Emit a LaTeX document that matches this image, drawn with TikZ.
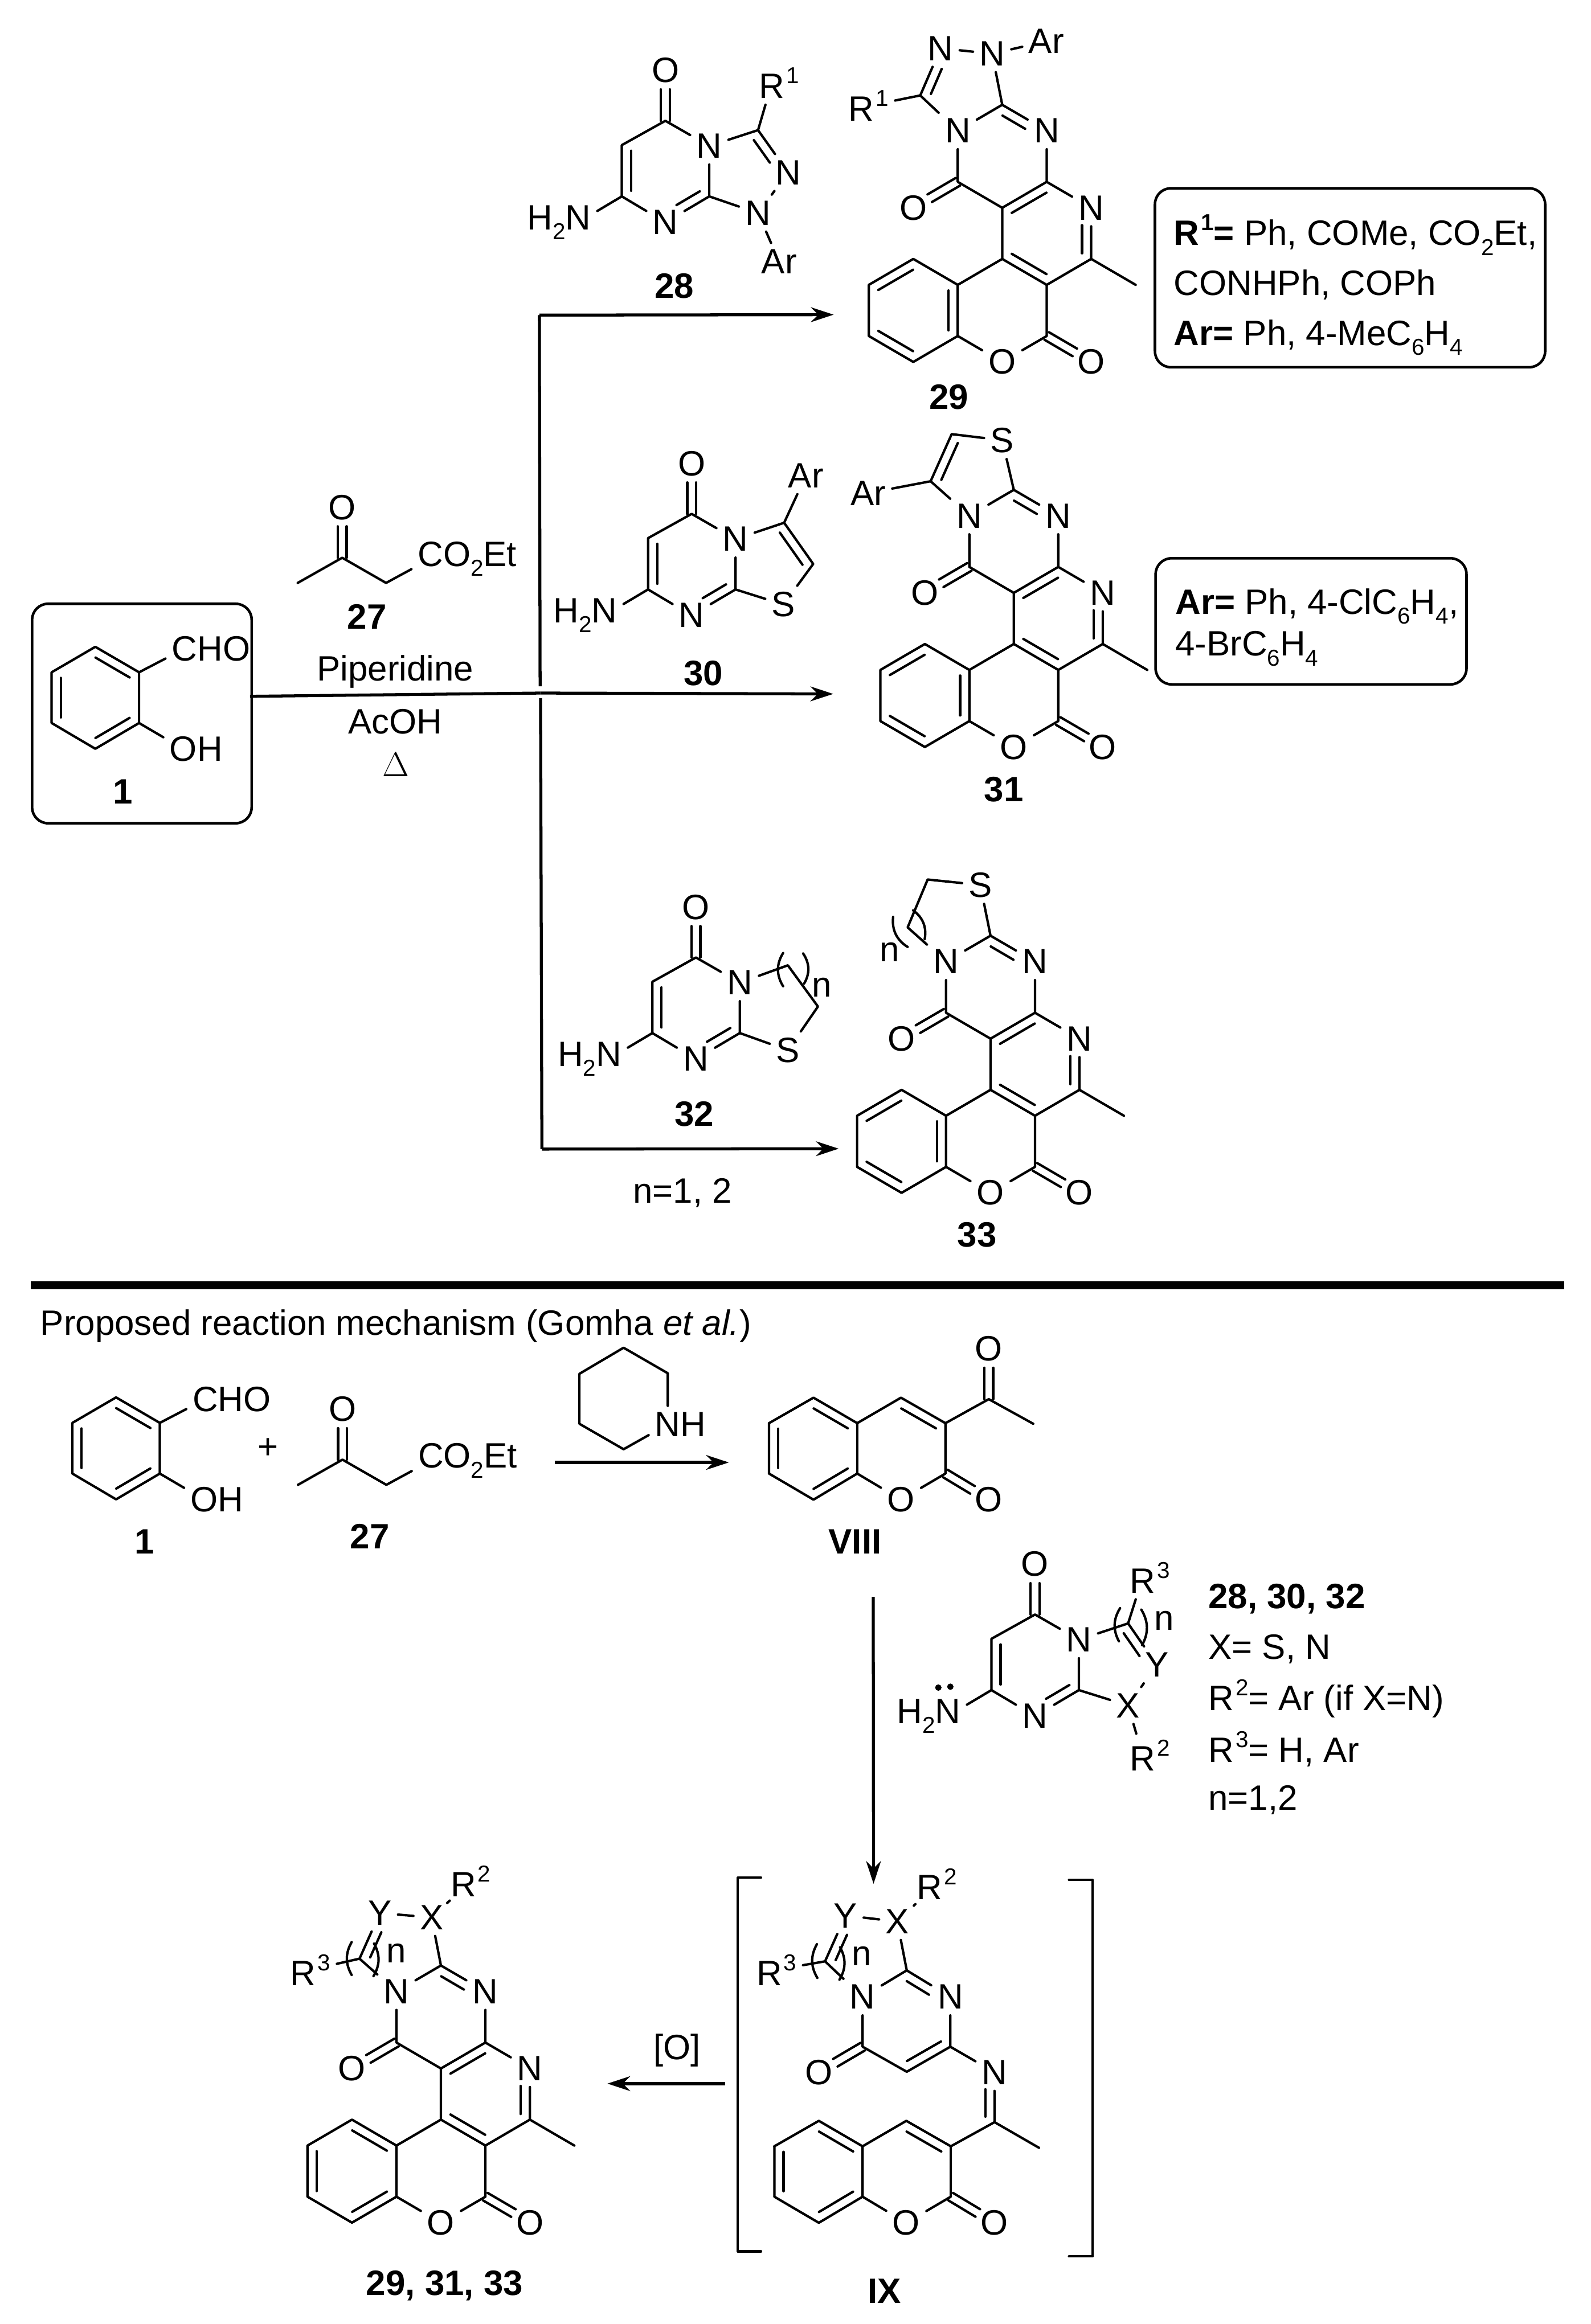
\documentclass[tikz,border=0pt]{standalone}
\usepackage{fontspec}
\setmainfont{Liberation Sans}
\usetikzlibrary{arrows.meta,calc}

\newcommand{\atomfont}{\fontsize{17.6}{21}\selectfont}
\newcommand{\supnum}[1]{\kern.05em\raisebox{.42em}{\fontsize{11.5}{12}\selectfont #1}}
\newcommand{\subnum}[1]{\raisebox{-.28em}{\fontsize{11.5}{12}\selectfont #1}}
\newcommand{\bondgap}{4.6pt}

\tikzset{
    bond/.style={line width=1.2pt, line cap=round, line join=round},
    atom/.style={font=\atomfont, inner sep=3pt},
    caption/.style={font=\atomfont, inner sep=0pt},
    numlabel/.style={font=\atomfont\bfseries, inner sep=0pt},
    rxnline/.style={line width=1.5pt},
    rxnarrow/.style={line width=1.5pt, -{Stealth[length=4mm,width=2.6mm]}},
    molbox/.style={draw, line width=1.3pt, rounded corners=8pt, inner sep=0pt},
    lonedot/.style={circle, fill, inner sep=0pt, minimum size=3.2pt},
}

\newcommand{\inbond}[4][.11]{\draw[bond] ($(#2)!.11!(#3)!#4\bondgap!90:(#3)$) -- ($(#3)!#1!(#2)!#4\bondgap!-90:(#2)$);}
\newcommand{\cdbl}[2]{
    \draw[bond,shorten >=9.5pt] ($(#1)!2.2pt!90:(#2)$) -- ($(#2)!2.2pt!-90:(#1)$);
    \draw[bond,shorten >=9.5pt] ($(#1)!2.2pt!-90:(#2)$) -- ($(#2)!2.2pt!90:(#1)$);
}

\newcommand{\fusedcore}[2]{
    \begin{scope}[shift={(#2)},name prefix=#1-]
        \coordinate (ca) at (0,-69.5);
        \node[atom] (Na) at (-30,-52) {N};
        \node[atom] (Nb) at (30,-52) {N};
        \coordinate (cb) at (-30,-17.5);
        \node[atom] (Oa) at (-60,0) {O};
        \coordinate (cc) at (0,0);
        \coordinate (cd) at (30,-17.5);
        \node[atom] (Nc) at (60,0) {N};
        \coordinate (ce) at (60,34.5);
        \coordinate (cf) at (90,52);
        \coordinate (cg) at (0,34.5);
        \coordinate (ch) at (30,52);
        \coordinate (ci) at (-30,52);
        \coordinate (cj) at (-60,34.5);
        \coordinate (ck) at (-90,52);
        \coordinate (cl) at (-90,86.5);
        \coordinate (cm) at (-60,104);
        \coordinate (cn) at (-30,86.5);
        \node[atom] (Ob) at (0,104) {O};
        \coordinate (co) at (30,86.5);
        \node[atom] (Oc) at (60,104) {O};
        \draw[bond] (Na) -- (ca) -- (Nb) -- (cd) -- (cc) -- (cb) -- (Na);
        \draw[bond] (cd) -- (Nc) -- (ce) -- (ch) -- (cg) -- (cc);
        \draw[bond] (ce) -- (cf);
        \draw[bond] (cg) -- (ci) -- (cj) -- (ck) -- (cl) -- (cm) -- (cn) -- (ci);
        \draw[bond] (cn) -- (Ob) -- (co) -- (ch);
        \inbond[.38]{ca}{Nb}{-}
        \inbond{cc}{cd}{-}
        \inbond[.34]{ce}{Nc}{}
        \inbond{cg}{ch}{}
        \cdbl{cb}{Oa}
        \cdbl{co}{Oc}
    \end{scope}
}
\newcommand{\aminocore}[2]{
    \begin{scope}[shift={(#2)},name prefix=#1-]
        \node[atom] (Oa) at (0,-34) {O};
        \coordinate (co) at (0,0);
        \coordinate (ch) at (-29.4,16.4);
        \coordinate (cn) at (-29.4,51);
        \node[atom] (Nb) at (0,68.5) {N};
        \coordinate (cj) at (29.6,51);
        \node[atom] (Na) at (29.6,17) {N};
        \node[atom] (Nm) at (-58.8,68.5) {\llap{H\subnum{2}}N};
        \draw[bond] (Na) -- (co) -- (ch) -- (cn) -- (Nb) -- (cj) -- (Na);
        \draw[bond] (cn) -- (Nm);
        \inbond{ch}{cn}{}
        \inbond[.36]{cj}{Nb}{-}
        \cdbl{co}{Oa}
    \end{scope}
}
\newcommand{\coumarincore}[2]{
    \begin{scope}[shift={(#2)},name prefix=#1-]
        \coordinate (cc) at (0,0);
        \coordinate (ck) at (-59.5,0);
        \coordinate (cj) at (-29.5,-17.2);
        \coordinate (ct) at (29.5,-17.2);
        \coordinate (cu) at (59.5,0);
        \coordinate (cv) at (59.5,34);
        \node[atom] (Ob) at (29.5,51.6) {O};
        \coordinate (cn) at (0,34);
        \coordinate (cm) at (-29.5,51.6);
        \coordinate (cl) at (-59.5,34);
        \node[atom] (Oc) at (88.7,51.6) {O};
        \draw[bond] (ck) -- (cj) -- (cc) -- (ct) -- (cu) -- (cv) -- (Ob) -- (cn) -- (cc);
        \draw[bond] (cn) -- (cm) -- (cl) -- (ck);
        \inbond{cj}{cc}{-}
        \inbond{ct}{cu}{-}
        \inbond{ck}{cl}{}
        \inbond{cn}{cm}{-}
        \cdbl{cv}{Oc}
    \end{scope}
}
\newcommand{\salicylcore}[2]{
    \begin{scope}[shift={(#2)},name prefix=#1-]
        \coordinate (ra) at (0,0);
        \coordinate (rb) at (0,34.2);
        \coordinate (rc) at (-29.5,51.6);
        \coordinate (rd) at (-59,34.2);
        \coordinate (re) at (-59,0);
        \coordinate (rf) at (-29.5,-17.2);
        \node[atom] (Cho) at (30.7,-16) {C\rlap{HO}};
        \node[atom] (Oh) at (29.9,51.8) {O\rlap{H}};
        \draw[bond] (ra) -- (rb) -- (rc) -- (rd) -- (re) -- (rf) -- (ra) -- (Cho);
        \draw[bond] (rb) -- (Oh);
        \inbond{rf}{ra}{-}
        \inbond{re}{rd}{}
        \inbond{rb}{rc}{-}
    \end{scope}
}
\newcommand{\ketoester}[2]{
    \begin{scope}[shift={(#2)},name prefix=#1-]
        \coordinate (kc) at (0,0);
        \node[atom] (Ok) at (0,-34) {O};
        \coordinate (kme) at (-30,17);
        \coordinate (kch) at (29.6,17);
        \node[atom] (Est) at (59.6,.7) {C\rlap{O\subnum{2}Et}};
        \draw[bond] (kme) -- (kc) -- (kch) -- (Est);
        \cdbl{kc}{Ok}
    \end{scope}
}
\newcommand{\kekuleA}[1]{
    \inbond{#1-cj}{#1-ci}{-}
    \inbond{#1-ck}{#1-cl}{}
    \inbond{#1-cn}{#1-cm}{-}
}
\newcommand{\kekuleB}[1]{
    \inbond{#1-ck}{#1-cj}{-}
    \inbond{#1-cl}{#1-cm}{}
    \inbond{#1-ci}{#1-cn}{-}
}

\begin{document}
\begin{tikzpicture}[x=0.02603cm,y=-0.02603cm]
    \useasboundingbox (0,0) rectangle (1073,1568);

    \node[molbox, minimum width=3.855cm, minimum height=3.855cm] (boxone) at (95.7,481.4) {};
    \salicylcore{sala}{93.8,453.6}
    \node[numlabel] (labone) at (82.8,534) {1};
    \ketoester{keta}{230.8,376.3}
    \node[numlabel] (labketa) at (247.5,416.2) {27};
    \node[caption] (pip) at (266.6,453) {Piperidine};
    \node[caption] (acoh) at (266.6,487) {AcOH};
    \node[caption] (heat) at (267,516) {$\Delta$};

    \coordinate (lineS) at (168.6,469.8);
    \coordinate (jA) at (363.8,212.6);
    \coordinate (jB) at (364.5,467.6);
    \coordinate (jBa) at (364.3,463);
    \coordinate (jBb) at (364.6,471);
    \coordinate (jC) at (365.5,775.3);
    \coordinate (tipA) at (562.3,212.3);
    \coordinate (tipB) at (562,468.2);
    \coordinate (tipC) at (565.7,775);
    \draw[rxnline] (lineS) -- (jB);
    \draw[rxnline] (jBa) -- (jA);
    \draw[rxnline] (jBb) -- (jC);
    \draw[rxnarrow] (jA) -- (tipA);
    \draw[rxnarrow] (jB) -- (tipB);
    \draw[rxnarrow] (jC) -- (tipC);

    \aminocore{mola}{448.8,81.5}
    \coordinate (mola-cr) at (511.3,87.8);
    \node[atom] (mola-R) at (520.6,56) {R\rlap{\supnum{1}}};
    \node[atom] (mola-Nd) at (531.6,116.4) {N};
    \node[atom] (mola-Ne) at (511.3,143.8) {N};
    \node[atom] (mola-Ar) at (525.5,176.4) {Ar};
    \draw[bond] (mola-Na) -- (mola-cr) -- (mola-Nd) -- (mola-Ne) -- (mola-cj);
    \draw[bond] (mola-cr) -- (mola-R);
    \draw[bond] (mola-Ne) -- (mola-Ar);
    \inbond[.36]{mola-cr}{mola-Nd}{-}
    \node[numlabel] (labmola) at (454.7,193) {28};

    \fusedcore{prda}{676,140.2}
    \kekuleB{prda}
    \node[atom] (prda-Nf) at (634.4,32.6) {N};
    \node[atom] (prda-Ng) at (669.2,36.2) {N};
    \node[atom] (prda-Ar) at (705.7,27.9) {Ar};
    \coordinate (prda-cr) at (620.7,64.4);
    \node[atom] (prda-R) at (585.9,71.4) {R\supnum{1}};
    \draw[bond] (prda-Na) -- (prda-cr) -- (prda-Nf) -- (prda-Ng) -- (prda-ca);
    \draw[bond] (prda-Ng) -- (prda-Ar);
    \draw[bond] (prda-cr) -- (prda-R);
    \inbond[.36]{prda-cr}{prda-Nf}{-}
    \node[numlabel] (labprda) at (640,268) {29};
    \node[molbox, minimum width=6.851cm, minimum height=3.144cm] (boxa) at (910.6,187.4) {};
    \node[caption, anchor=west, align=left] (boxatext) at (791.5,192.4)
        {\textbf{R\supnum{1}=} Ph, COMe, CO\subnum{2}Et,\\[4pt] CONHPh, COPh\\[4pt] \textbf{Ar=} Ph, 4-MeC\subnum{6}H\subnum{4}};

    \aminocore{molb}{466.5,346.7}
    \coordinate (molb-cr) at (528.9,352.7);
    \coordinate (molb-cs) at (548.5,380.5);
    \node[atom] (molb-S) at (528.4,407.9) {S};
    \node[atom] (molb-Ar) at (543.6,320.9) {Ar};
    \draw[bond] (molb-Na) -- (molb-cr) -- (molb-cs) -- (molb-S) -- (molb-cj);
    \draw[bond] (molb-cr) -- (molb-Ar);
    \inbond{molb-cr}{molb-cs}{-}
    \node[numlabel] (labmolb) at (474.3,454.1) {30};

    \fusedcore{prdb}{683.8,400}
    \kekuleB{prdb}
    \coordinate (prdb-cr) at (627.7,324.7);
    \coordinate (prdb-cs) at (641.9,292.9);
    \node[atom] (prdb-S) at (676,297) {S};
    \node[atom] (prdb-Ar) at (585.6,332.7) {Ar};
    \draw[bond] (prdb-Na) -- (prdb-cr) -- (prdb-cs) -- (prdb-S) -- (prdb-ca);
    \draw[bond] (prdb-cr) -- (prdb-Ar);
    \inbond{prdb-cr}{prdb-cs}{-}
    \node[numlabel] (labprdb) at (677,532.6) {31};
    \node[molbox, minimum width=5.459cm, minimum height=2.215cm] (boxb) at (884.3,419.2) {};
    \node[caption, anchor=west, align=left] (boxbtext) at (792.5,423.2)
        {\textbf{Ar=} Ph, 4-ClC\subnum{6}H\subnum{4},\\ 4-BrC\subnum{6}H\subnum{4}};

    \aminocore{molc}{469.4,646}
    \coordinate (molc-cr) at (531.4,651.3);
    \coordinate (molc-cs) at (551.7,679.1);
    \node[atom] (molc-S) at (531.4,708.6) {S};
    \node[atom] (molc-n) at (554.2,666.3) {n};
    \draw[bond] (molc-Na) -- (molc-cr) -- (molc-cs) -- (molc-S) -- (molc-cj);
    \draw[bond] (528.2,643) to[bend right=32] (528.2,665.4);
    \draw[bond] (541.7,643.3) to[bend left=32] (542.4,663.6);
    \node[numlabel] (labmolc) at (468.2,751.8) {32};
    \node[caption] (nvals) at (460.3,804.7) {n=1, 2};

    \fusedcore{prdc}{668.1,700.8}
    \kekuleB{prdc}
    \coordinate (prdc-cr) at (612.2,625.7);
    \coordinate (prdc-cs) at (625.7,593.4);
    \node[atom] (prdc-S) at (661.2,597.1) {S};
    \node[atom] (prdc-n) at (600,642.4) {n};
    \draw[bond] (prdc-Na) -- (prdc-cr) -- (prdc-cs) -- (prdc-S) -- (prdc-ca);
    \draw[bond] (615.9,614.2) to[bend left=32] (623.7,633.6);
    \draw[bond] (602.4,618.6) to[bend right=32] (612.2,638.9);
    \node[numlabel] (labprdc) at (659,833) {33};

    \draw[line width=4pt] (20.8,867) -- (1055,867);
    \node[caption, anchor=west] (mechtitle) at (27,894.5) {Proposed reaction mechanism (Gomha \textit{et al.})};

    \salicylcore{salb}{107.8,960}
    \node[numlabel] (labtwo) at (97.3,1040.2) {1};
    \node[caption] (plus) at (180.8,977.2) {+};
    \ketoester{ketb}{231,984.8}
    \node[numlabel] (labketb) at (249.4,1036.4) {27};

    \coordinate (pa) at (420.6,909.3);
    \coordinate (pb) at (450.4,926.5);
    \node[atom] (pN) at (450.4,961) {N\rlap{H}};
    \coordinate (pc) at (420.6,977.8);
    \coordinate (pd) at (390.8,960.6);
    \coordinate (pe) at (390.8,926.9);
    \draw[bond] (pN) -- (pb) -- (pa) -- (pe) -- (pd) -- (pc) -- (pN);
    \coordinate (startD) at (374.1,986.7);
    \coordinate (tipD) at (491.6,986.7);
    \draw[rxnarrow] (startD) -- (tipD);

    \coumarincore{cmra}{578.2,960.2}
    \coordinate (cmra-cx) at (666.9,944);
    \coordinate (cmra-cy) at (696.9,960.6);
    \node[atom] (cmra-Ox) at (666.9,910) {O};
    \draw[bond] (cmra-cu) -- (cmra-cx) -- (cmra-cy);
    \cdbl{cmra-cx}{cmra-Ox}
    \node[numlabel] (labviii) at (576.7,1040.2) {VIII};

    \coordinate (startE) at (589,1077.4);
    \coordinate (tipE) at (589.2,1271);
    \draw[rxnarrow] (startE) -- (tipE);

    \aminocore{mold}{698.1,1089.3}
    \node[lonedot] (lpa) at (632.9,1138.6) {};
    \node[lonedot] (lpb) at (641,1138) {};
    \coordinate (mold-cr) at (760.9,1095.3);
    \node[atom] (mold-R) at (770.7,1064.3) {R\rlap{\supnum{3}}};
    \node[atom] (mold-Y) at (780.3,1123.3) {Y};
    \node[atom] (mold-X) at (760.9,1150.7) {X};
    \node[atom] (mold-Rb) at (770.7,1184.4) {R\rlap{\supnum{2}}};
    \node[atom] (mold-n) at (785.2,1093.4) {n};
    \draw[bond] (mold-Na) -- (mold-cr) -- (mold-Y) -- (mold-X) -- (mold-cj);
    \draw[bond] (mold-cr) -- (mold-R);
    \draw[bond] (mold-X) -- (mold-Rb);
    \inbond[.34]{mold-cr}{mold-Y}{-}
    \draw[bond] (755.5,1085) to[bend right=30] (754.7,1107.4);
    \draw[bond] (769.8,1086) to[bend left=30] (770.3,1110);
    \node[numlabel, anchor=west] (labgen) at (814.8,1078.7) {28, 30, 32};
    \node[caption, anchor=west] (defx) at (814.8,1112.5) {X= S, N};
    \node[caption, anchor=west] (defrb) at (814.8,1146.2) {R\supnum{2}= Ar (if X=N)};
    \node[caption, anchor=west] (defrc) at (814.8,1180) {R\supnum{3}= H, Ar};
    \node[caption, anchor=west] (defn) at (814.8,1214.4) {n=1,2};

    \coumarincore{cmrb}{581.8,1448.1}
    \coordinate (ixca) at (611.6,1329.4);
    \node[atom] (ixNa) at (581.8,1347.3) {N};
    \node[atom] (ixNb) at (641,1347.3) {N};
    \coordinate (ixcb) at (581.8,1380.9);
    \node[atom] (ixOa) at (552.4,1398.2) {O};
    \coordinate (ixcc) at (611.6,1397.8);
    \coordinate (ixcd) at (641,1380.9);
    \node[atom] (ixNc) at (670.8,1398.2) {N};
    \coordinate (ixce) at (670.8,1431.8);
    \coordinate (ixcf) at (700.8,1449.1);
    \coordinate (ixcr) at (556.5,1323.3);
    \node[atom] (ixX) at (605.2,1296.4) {X};
    \node[atom] (ixY) at (570.3,1292.4) {Y};
    \node[atom] (ixRb) at (631.8,1271) {R\supnum{2}};
    \node[atom] (ixR) at (523.8,1329) {R\supnum{3}};
    \node[atom] (ixn) at (581.3,1319.9) {n};
    \draw[bond] (ixNa) -- (ixca) -- (ixNb) -- (ixcd) -- (ixcc) -- (ixcb) -- (ixNa);
    \draw[bond] (ixcd) -- (ixNc) -- (ixce) -- (ixcf);
    \draw[bond] (ixce) -- (cmrb-cu);
    \draw[bond] (ixNa) -- (ixcr) -- (ixY) -- (ixX) -- (ixca);
    \draw[bond] (ixX) -- (ixRb);
    \draw[bond] (ixcr) -- (ixR);
    \inbond[.38]{ixca}{ixNb}{-}
    \inbond{ixcc}{ixcd}{}
    \inbond[.34]{ixce}{ixNc}{}
    \inbond[.34]{ixcr}{ixY}{-}
    \cdbl{ixcb}{ixOa}
    \draw[bond] (551,1311.7) to[bend right=30] (551.3,1334.5);
    \draw[bond] (566.6,1313.8) to[bend left=30] (566.2,1335.7);
    \draw[bond] (513.3,1266.9) -- (497.7,1266.9) -- (497.7,1519) -- (513.3,1519);
    \draw[bond] (721,1268.3) -- (737,1268.3) -- (737,1522.4) -- (721,1522.4);
    \node[numlabel] (labix) at (596.4,1545.9) {IX};

    \coordinate (startF) at (489,1405.8);
    \coordinate (tipF) at (409.7,1405.8);
    \draw[rxnarrow] (startF) -- (tipF);
    \node[caption] (oxid) at (456.7,1383.4) {[O]};

    \fusedcore{prdd}{297.4,1395.6}
    \kekuleA{prdd}
    \coordinate (prdd-cr) at (242.5,1321.5);
    \node[atom] (prdd-X) at (291.1,1293.7) {X};
    \node[atom] (prdd-Y) at (256.2,1290.7) {Y};
    \node[atom] (prdd-Rb) at (317.5,1269.2) {R\supnum{2}};
    \node[atom] (prdd-R) at (209.4,1329) {R\supnum{3}};
    \node[atom] (prdd-n) at (267.4,1317.8) {n};
    \draw[bond] (prdd-Na) -- (prdd-cr) -- (prdd-Y) -- (prdd-X) -- (prdd-ca);
    \draw[bond] (prdd-X) -- (prdd-Rb);
    \draw[bond] (prdd-cr) -- (prdd-R);
    \inbond[.34]{prdd-cr}{prdd-Y}{-}
    \draw[bond] (237.2,1310.3) to[bend right=30] (237.2,1332.5);
    \draw[bond] (252.3,1311.3) to[bend left=30] (251.9,1333.3);
    \node[numlabel] (labprdd) at (299.9,1542) {29, 31, 33};
\end{tikzpicture}
\end{document}
